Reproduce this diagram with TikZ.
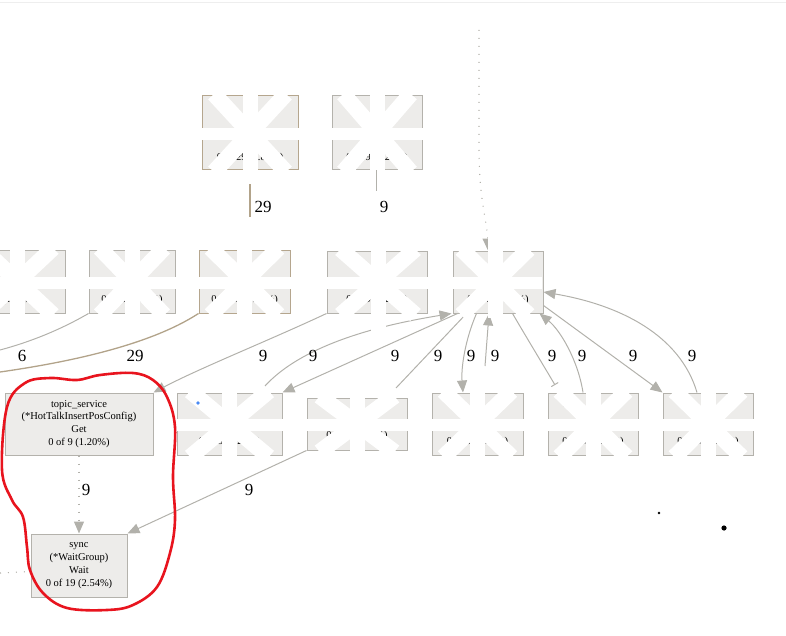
\documentclass[tikz,border=0pt]{standalone}
\usepackage{fontspec}
\setmainfont{Liberation Serif}
\usetikzlibrary{arrows.meta}
\definecolor{boxfill}{HTML}{EDECEA}
\definecolor{boxgray}{HTML}{B4B2AC}
\definecolor{boxtan}{HTML}{B5A68E}
\definecolor{egray}{HTML}{B2B1AB}
\definecolor{etan}{HTML}{B2A38A}
\definecolor{redpen}{HTML}{E8141E}
\definecolor{blu}{HTML}{4A8AF4}
\definecolor{topline}{HTML}{EEEEEE}
% white redaction star: cx, cy, half width, half height, extension up, extension down
\newcommand\redactstar[6]{%
  \draw[white, line width=15pt] (#1,{#2-#4-#5}) -- (#1,{#2+#4+#6});
  \draw[white, line width=12pt] ({#1-#3-2},{#2+1}) -- ({#1+#3+2},{#2+1});
  \draw[white, line width=16pt] ({#1-0.75*#3},{#2-#4-2}) -- ({#1+0.75*#3},{#2+#4+2});
  \draw[white, line width=16pt] ({#1-0.75*#3},{#2+#4+2}) -- ({#1+0.75*#3},{#2-#4-2});
}
\tikzset{
  box/.style={draw=boxgray, fill=boxfill, line width=1pt, inner sep=0pt, align=center,
    font=\fontsize{10.5}{12.8}\selectfont},
  btxt/.style={inner sep=0pt, font=\fontsize{10.5}{12.8}\selectfont},
  lbl/.style={inner sep=0pt, font=\fontsize{17}{17}\selectfont},
  edge/.style={draw=egray, line width=1pt},
  tedge/.style={draw=etan, line width=1.3pt},
  arr/.style={-{Triangle[length=12pt,width=10pt,color=egray,fill=egray]}},
  dots/.style={draw=egray, line width=1.1pt, dash pattern=on 1pt off 7pt},
}
\begin{document}
\begin{tikzpicture}[x=1pt,y=-1pt]
\useasboundingbox (0,0) rectangle (786,636);
\draw[topline, line width=1.2pt] (0,2.5) -- (786,2.5);

% ---- boxes ----
\node[box, draw=boxtan, minimum width=96pt, minimum height=74pt] (t1) at (250,133) {};
\node[box, minimum width=90pt, minimum height=74pt] (t2) at (377,133) {};
\node[box, minimum width=95pt, minimum height=63pt] (m1) at (17.5,281.5) {};
\node[box, minimum width=86pt, minimum height=63pt] (m2) at (132,281.5) {};
\node[box, draw=boxtan, minimum width=91pt, minimum height=63pt] (m3) at (244.5,281.5) {};
\node[box, minimum width=100pt, minimum height=62pt] (m4) at (377,282) {};
\node[box, minimum width=90pt, minimum height=62pt] (h) at (498,282) {};
\node[box, minimum width=148pt, minimum height=62pt] (b1) at (79,424)
  {topic\_service\\(*HotTalkInsertPosConfig)\\Get\\0 of 9 (1.20\%)};
\node[box, minimum width=96pt, minimum height=63pt] (s) at (79,565.5)
  {sync\\(*WaitGroup)\\Wait\\0 of 19 (2.54\%)};
\node[box, minimum width=105pt, minimum height=62pt] (b2) at (229.5,424) {};
\node[box, minimum width=100pt, minimum height=52pt] (b3) at (357,424) {};
\node[box, minimum width=91pt, minimum height=62pt] (b4) at (477.5,424) {};
\node[box, minimum width=90pt, minimum height=62pt] (b5) at (593,424) {};
\node[box, minimum width=90pt, minimum height=62pt] (b6) at (708,424) {};

% texts inside the redacted boxes
\node[btxt] (t1b) at (250,158) {0 of 29 (3.87\%)};
\node[btxt] (t2b) at (377,158) {0 of 9 (1.20\%)};
\node[btxt, anchor=west] (m1b) at (2,300) {(1.20\%)};
\node[btxt] (m2b) at (132,300) {0 of 6 (0.80\%)};
\node[btxt] (m3b) at (244.5,300) {0 of 29 (3.87\%)};
\node[btxt] (m4b) at (377,300) {0 of 9 (1.20\%)};
\node[btxt] (hb) at (498,300) {0 of 9 (1.20\%)};
\node[btxt] (b2b) at (229.5,442) {0 of 9 (1.20\%)};
\node[btxt] (b3b) at (357,436) {0 of 9 (1.20\%)};
\node[btxt] (b4b) at (477.5,442) {0 of 9 (1.20\%)};
\node[btxt] (b5a) at (570,405) {ma};
\node[btxt] (b5b) at (593,442) {0 of 9 (1.20\%)};
\node[btxt] (b6b) at (708,442) {0 of 9 (1.20\%)};

% ---- free ends ----
\coordinate (c6) at (0,350);
\coordinate (c29) at (0,372);
\coordinate (t1e) at (250,217);
\coordinate (t2e) at (376,222);
\coordinate (c437) at (396,388);
\coordinate (c494) at (485,366);
\coordinate (c551) at (555,385);
\coordinate (ctop) at (479,30);
\coordinate (cl) at (0,573);

% ---- connectors ----
\draw[tedge] (t1.south) -- (t1e);
\draw[edge] ([xshift=-1pt]t2.south) -- (t2e);
\draw[edge] (m2.south west) .. controls (60,330) and (30,342) .. (c6);
\draw[tedge] (m3.south west) .. controls (150,345) and (70,362) .. (c29);
\draw[edge, arr] (m4.south west) .. controls (270,340) and (200,368) .. (b1.north east);
\draw[edge, arr] ([xshift=30pt]b2.north) .. controls (300,340) and (400,322) .. ([xshift=-1pt]h.south west);
\draw[edge, arr] ([xshift=5pt]h.south west) -- (b2.north east);
\draw[edge] ([xshift=14pt]h.south west) -- (c437);
\draw[edge, arr] ([xshift=24pt]h.south west) .. controls (465,340) and (461,368) .. ([xshift=-14.5pt]b4.north);
\draw[edge, arr] (c494) -- ([xshift=-9pt]h.south);
\draw[edge, -{Bar[width=8pt]}] ([xshift=-31pt]h.south east) .. controls (528,340) and (545,368) .. (c551);
\draw[edge, arr] ([xshift=-10pt]b5.north) .. controls (578,360) and (560,330) .. ([xshift=-4pt]h.south east);
\draw[edge, arr] ([yshift=8pt]h.south east) -- (b6.north west);
\draw[edge, arr] ([xshift=-11pt]b6.north) .. controls (680,335) and (620,305) .. ([yshift=-10pt]h.east);
\draw[edge, arr] (b3.south west) -- (s.north east);
\draw[dots, arr] (b1.south) -- (s.north);
\draw[dots, arr] (ctop) -- (479,150) .. controls (479,200) and (487,220) .. ([xshift=-10pt]h.north);
\draw[dots] (cl) -- ([yshift=-6pt]s.west);

% ---- redaction stars ----
\redactstar{250}{133}{48}{37}{3}{14}
\redactstar{377}{133}{45}{37}{3}{0}
\redactstar{17.5}{281.5}{47.5}{31.5}{10}{5}
\redactstar{132}{281.5}{43}{31.5}{10}{5}
\redactstar{244.5}{281.5}{45.5}{31.5}{33}{5}
\redactstar{378}{282}{50}{31}{60}{22}
\redactstar{495}{282}{45}{31}{55}{5}
\redactstar{229.5}{424}{52.5}{31}{8}{3}
\redactstar{357}{424}{50}{26}{8}{3}
\redactstar{477.5}{424}{45.5}{31}{26}{3}
\redactstar{593}{424}{45}{31}{8}{3}
\redactstar{708}{424}{45}{31}{8}{3}

% ---- labels ----
\node[lbl] (l6) at (22,356) {6};
\node[lbl] (l29a) at (135,356) {29};
\node[lbl] (l9a) at (263,356) {9};
\node[lbl] (l9b) at (313,356) {9};
\node[lbl] (l9c) at (395,356) {9};
\node[lbl] (l9d) at (438,356) {9};
\node[lbl] (l9e) at (471,356) {9};
\node[lbl] (l9f) at (495,356) {9};
\node[lbl] (l9g) at (552,356) {9};
\node[lbl] (l9h) at (582,356) {9};
\node[lbl] (l9i) at (633,356) {9};
\node[lbl] (l9j) at (692,356) {9};
\node[lbl] (l29b) at (263,207) {29};
\node[lbl] (l9k) at (384,207) {9};
\node[lbl] (l9l) at (86,490) {9};
\node[lbl] (l9m) at (249,490) {9};

% ---- marks ----
\fill[blu] (198,403) circle (1.8pt);
\fill[black] (659,513) circle (1.3pt);
\fill[black] (724,528) circle (2.6pt);
\draw[redpen, line width=2.6pt] plot[smooth cycle, tension=0.6] coordinates {
  (100,375) (133,373) (153,380) (167,397) (175,427) (173,477) (175,520)
  (170,553) (157,587) (133,605) (107,610) (67,608) (43,593) (30,570)
  (27,547) (23,517) (12,500) (2,470) (7,407) (25,383) (50,378) (77,380)};
\end{tikzpicture}
\end{document}
